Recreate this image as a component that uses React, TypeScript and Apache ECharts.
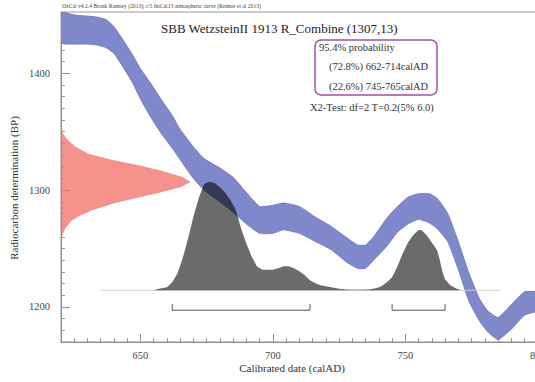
import React, { useEffect, useRef } from "react";
import * as echarts from "echarts";

// Calibration curve band (IntCal13): calendar year, upper and lower BP edges
const curveYears = [620, 625, 630, 634, 637, 640, 643, 647, 650, 654, 658, 662, 665, 670, 674, 680, 685, 690, 695, 700, 704, 710, 716, 722, 728, 732, 735, 738, 743, 747, 751, 755, 759, 762, 766, 770, 774, 778, 781, 785, 790, 795, 800, 805];
const curveUpper = [1452, 1450, 1449, 1448, 1446, 1440, 1430, 1416, 1404, 1391, 1377, 1364, 1352, 1337, 1327, 1319, 1311, 1298, 1286, 1287, 1289, 1286, 1277, 1269, 1259, 1253, 1253, 1260, 1276, 1286, 1294, 1297, 1297, 1293, 1280, 1256, 1229, 1207, 1197, 1191, 1202, 1213, 1213, 1210];
const curveLower = [1426, 1425, 1425, 1424, 1422, 1417, 1407, 1392, 1378, 1362, 1348, 1336, 1326, 1310, 1300, 1290, 1281, 1271, 1263, 1263, 1266, 1263, 1256, 1249, 1238, 1233, 1233, 1240, 1252, 1264, 1271, 1275, 1272, 1267, 1256, 1232, 1205, 1188, 1179, 1172, 1181, 1193, 1196, 1192];

// Radiocarbon measurement R_Combine (1307,13): relative density at BP values
const measBP = [1352, 1348, 1343, 1337, 1331, 1326, 1321, 1316, 1311, 1307, 1303, 1298, 1294, 1289, 1283, 1278, 1274, 1268, 1262, 1259];
const measDensity = [0, 0.015, 0.05, 0.11, 0.21, 0.38, 0.6, 0.79, 0.94, 1.0, 0.93, 0.76, 0.6, 0.41, 0.24, 0.14, 0.08, 0.035, 0.01, 0];

// Calibrated probability distribution (percent of peak)
const calYears = [655, 657, 660, 662, 664, 666, 668, 670, 672, 674, 676, 678, 680, 682, 684, 686, 688, 690, 692, 694, 696, 698, 700, 702, 704, 706, 708, 710, 712, 714, 716, 718, 720, 722, 725, 728, 732, 736, 739, 741, 743, 745, 747, 749, 751, 753, 755, 756, 758, 760, 762, 763, 764, 765, 767, 769, 771];
const calProb = [0, 1.4, 2.8, 7.4, 15.7, 30, 48, 68, 85, 98, 100, 99, 95, 90, 83, 74, 57, 43, 31, 22, 19, 19, 19, 20.4, 22.2, 22.2, 20.4, 17.6, 13.9, 9.3, 6.5, 4.6, 3.7, 2.8, 1.4, 0.6, 0.5, 0.7, 1.9, 3.7, 7.4, 12, 22, 34, 44, 51, 55.6, 55.6, 51, 44, 37, 28, 17, 10, 4.6, 1.9, 0];

// 95.4% ranges
const ranges = [
  [662, 714],
  [745, 765],
];

const xMajorTicks = [650, 700, 750, 800];
const yMajorTicks = [1200, 1300, 1400];

const headerText = "OxCal v4.2.4 Bronk Ramsey (2013); r:5 IntCal13 atmospheric curve (Reimer et al 2013)";
const titleText = "SBB WetzsteinII 1913 R_Combine (1307,13)";
const probLines = ["95.4% probability", "(72.8%) 662-714calAD", "(22.6%) 745-765calAD"];
const chiText = "X2-Test: df=2 T=0.2(5% 6.0)";

const FONT = "Liberation Serif";
const X_MIN = 620;
const X_MAX = 825;
const Y_MIN = 1170;
const Y_MAX = 1452.5;

const xMinorTicks: number[] = [];
for (let v = 625; v <= 825; v += 5) xMinorTicks.push(v);
const yMinorTicks: number[] = [];
for (let v = 1180; v <= 1450; v += 10) yMinorTicks.push(v);

export default function App() {
  const ref = useRef<HTMLDivElement>(null);

  useEffect(() => {
    if (!ref.current) return;
    const chart = echarts.init(ref.current, null, { renderer: "svg" });

    const baseBP = 1214.3; // baseline of the calibrated distribution
    const probScale = 92.8 / 100; // BP per percent
    const measScale = 48.7; // years at peak of measurement density
    const bracketBP = 1197.2;
    const bracketTickBP = 1202.5;

    const option: any = {
      animation: false,
      grid: {
        left: 61,
        top: 12,
        width: 543,
        height: 330,
        show: true,
        borderColor: "#9a9a9a",
        borderWidth: 1,
        backgroundColor: "transparent",
      },
      xAxis: [
        {
          type: "value",
          min: X_MIN,
          max: X_MAX,
          position: "bottom",
          axisLine: { show: true, lineStyle: { color: "#8a8a8a", width: 1 } },
          axisTick: { show: true, inside: true, length: 8, customValues: xMajorTicks, lineStyle: { color: "#8a8a8a" } },
          axisLabel: { show: true, customValues: xMajorTicks, color: "#444", fontSize: 10.5, fontFamily: FONT, margin: 8, formatter: (v: number) => String(v) },
          splitLine: { show: false },
        },
        {
          type: "value",
          min: X_MIN,
          max: X_MAX,
          position: "bottom",
          axisLine: { show: false },
          axisTick: { show: true, inside: true, length: 4, customValues: xMinorTicks, lineStyle: { color: "#9a9a9a" } },
          axisLabel: { show: false },
          splitLine: { show: false },
        },
      ],
      yAxis: [
        {
          type: "value",
          min: Y_MIN,
          max: Y_MAX,
          position: "left",
          axisLine: { show: true, lineStyle: { color: "#8a8a8a", width: 1 } },
          axisTick: { show: true, inside: true, length: 9, customValues: yMajorTicks, lineStyle: { color: "#8a8a8a" } },
          axisLabel: { show: true, customValues: yMajorTicks, color: "#444", fontSize: 10.5, fontFamily: FONT, margin: 11, formatter: (v: number) => String(v) },
          splitLine: { show: false },
        },
        {
          type: "value",
          min: Y_MIN,
          max: Y_MAX,
          position: "left",
          axisLine: { show: false },
          axisTick: { show: true, inside: true, length: 4, customValues: yMinorTicks, lineStyle: { color: "#9a9a9a" } },
          axisLabel: { show: false },
          splitLine: { show: false },
        },
      ],
      series: [
        {
          type: "custom",
          name: "curve",
          coordinateSystem: "cartesian2d",
          clip: true,
          silent: true,
          data: [[curveYears[0], curveUpper[0]]],
          renderItem: (params: any, api: any) => {
            const pts: number[][] = [];
            for (let i = 0; i < curveYears.length; i++) pts.push(api.coord([curveYears[i], curveUpper[i]]));
            for (let i = curveYears.length - 1; i >= 0; i--) pts.push(api.coord([curveYears[i], curveLower[i]]));
            return {
              type: "polygon",
              shape: { points: pts, smooth: 0.15 },
              style: { fill: "#8088cc", stroke: "#6a71b8", lineWidth: 0.8 },
            };
          },
        },
        {
          type: "custom",
          name: "baseline",
          coordinateSystem: "cartesian2d",
          silent: true,
          data: [[635, baseBP]],
          renderItem: (params: any, api: any) => {
            const a = api.coord([635, baseBP]);
            const b = api.coord([786, baseBP]);
            return {
              type: "line",
              shape: { x1: a[0], y1: a[1], x2: b[0], y2: b[1] },
              style: { stroke: "#d0d0d0", lineWidth: 1 },
            };
          },
        },
        {
          type: "custom",
          name: "calibrated",
          coordinateSystem: "cartesian2d",
          clip: true,
          silent: true,
          data: [[calYears[0], baseBP]],
          renderItem: (params: any, api: any) => {
            const pts: number[][] = [];
            pts.push(api.coord([calYears[0], baseBP]));
            for (let i = 0; i < calYears.length; i++) pts.push(api.coord([calYears[i], baseBP + calProb[i] * probScale]));
            pts.push(api.coord([calYears[calYears.length - 1], baseBP]));
            return {
              type: "polygon",
              shape: { points: pts },
              style: { fill: "rgba(0,0,0,0.58)", stroke: "none" },
            };
          },
        },
        {
          type: "custom",
          name: "measurement",
          coordinateSystem: "cartesian2d",
          clip: true,
          silent: true,
          data: [[X_MIN, measBP[0]]],
          renderItem: (params: any, api: any) => {
            const pts: number[][] = [];
            for (let i = 0; i < measBP.length; i++) pts.push(api.coord([X_MIN + measDensity[i] * measScale, measBP[i]]));
            pts.push(api.coord([X_MIN, measBP[measBP.length - 1]]));
            pts.push(api.coord([X_MIN, measBP[0]]));
            return {
              type: "polygon",
              shape: { points: pts },
              style: { fill: "rgba(240,108,98,0.74)", stroke: "rgba(225,95,90,0.6)", lineWidth: 0.6 },
            };
          },
        },
        {
          type: "custom",
          name: "ranges",
          coordinateSystem: "cartesian2d",
          silent: true,
          data: ranges,
          renderItem: (params: any, api: any) => {
            const r = ranges[params.dataIndex];
            const p1 = api.coord([r[0], bracketTickBP]);
            const p2 = api.coord([r[0], bracketBP]);
            const p3 = api.coord([r[1], bracketBP]);
            const p4 = api.coord([r[1], bracketTickBP]);
            return {
              type: "polyline",
              shape: { points: [p1, p2, p3, p4] },
              style: { stroke: "#555", lineWidth: 1, fill: "none" },
            };
          },
        },
      ],
      graphic: [
        {
          type: "text",
          x: 62,
          y: 5.5,
          style: { text: headerText, fontSize: 5.6, fontFamily: FONT, fill: "#444", verticalAlign: "middle" },
        },
        {
          type: "text",
          x: 161,
          y: 28,
          style: { text: titleText, fontSize: 13, fontFamily: FONT, fill: "#222", verticalAlign: "middle" },
        },
        {
          type: "rect",
          shape: { x: 315, y: 40, width: 122, height: 55, r: 6 },
          style: { fill: "none", stroke: "#a24ea8", lineWidth: 1.5 },
        },
        {
          type: "text",
          x: 319,
          y: 47,
          style: { text: probLines[0], fontSize: 10.5, fontFamily: FONT, fill: "#333", verticalAlign: "middle" },
        },
        {
          type: "text",
          x: 329,
          y: 66.7,
          style: { text: probLines[1], fontSize: 10.5, fontFamily: FONT, fill: "#333", verticalAlign: "middle" },
        },
        {
          type: "text",
          x: 329,
          y: 86,
          style: { text: probLines[2], fontSize: 10.5, fontFamily: FONT, fill: "#333", verticalAlign: "middle" },
        },
        {
          type: "text",
          x: 310,
          y: 107,
          style: { text: chiText, fontSize: 10.5, fontFamily: FONT, fill: "#333", verticalAlign: "middle" },
        },
        {
          type: "text",
          x: 292,
          y: 368,
          style: { text: "Calibrated date (calAD)", fontSize: 11, fontFamily: FONT, fill: "#333", align: "center", verticalAlign: "middle" },
        },
        {
          type: "text",
          x: 14,
          y: 188,
          rotation: Math.PI / 2,
          style: { text: "Radiocarbon determination (BP)", fontSize: 11, fontFamily: FONT, fill: "#333", align: "center", verticalAlign: "middle" },
        },
      ],
    };

    chart.setOption(option);
    return () => {
      chart.dispose();
    };
  }, []);

  return (
    <div
      style={{
        position: "fixed",
        left: 0,
        top: 0,
        width: 535,
        height: 382,
        overflow: "hidden",
        background: "#fff",
      }}
    >
      <div ref={ref} style={{ width: 620, height: 382 }} />
    </div>
  );
}
